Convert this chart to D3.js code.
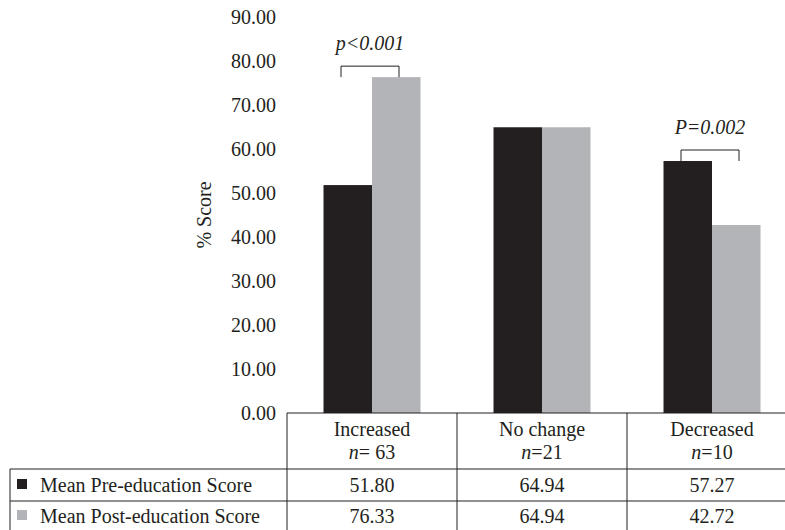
<!DOCTYPE html>
<html>
<head>
<meta charset="utf-8">
<script src="https://cdn.jsdelivr.net/npm/d3@7"></script>
<style>
  body { margin: 0; background: #fff; }
  svg { display: block; font-family: "Liberation Serif", "DejaVu Serif", serif; }
  text { fill: #231f20; }
</style>
</head>
<body>
<script>
// Chart data
const categories = ["Increased", "No change", "Decreased"];
const groupSizes = ["63", "21", "10"];
const groupSpacer = [" ", "", ""];
const preScores = [51.80, 64.94, 57.27];
const postScores = [76.33, 64.94, 42.72];
const seriesNames = ["Mean Pre-education Score", "Mean Post-education Score"];
const yTicks = [0, 10, 20, 30, 40, 50, 60, 70, 80, 90];
const sigCategories = ["Increased", "Decreased"];
const sigLabels = ["p<0.001", "P=0.002"];

const width = 785, height = 530;
const colors = ["#231f20", "#b2b4b7"];
const lineColor = "#231f20";
const fontSize = 20;

const svg = d3.select("body").append("svg")
    .attr("width", width)
    .attr("height", height);

// Scales
const x = d3.scaleBand()
    .domain(categories)
    .range([287, 797]);

const xSeries = d3.scaleBand()
    .domain([0, 1])
    .range([-48.5, 48.5]);

const y = d3.scaleLinear()
    .domain([0, 90])
    .range([413, 17]);

// Y axis (labels only, no line or ticks)
const yAxis = d3.axisLeft(y)
    .tickValues(yTicks)
    .tickSize(0)
    .tickPadding(11)
    .tickFormat(d3.format(".2f"));

const yG = svg.append("g")
    .attr("transform", "translate(287,0)")
    .call(yAxis);
yG.select(".domain").remove();
yG.selectAll("text")
    .attr("font-family", "Liberation Serif, serif")
    .attr("font-size", fontSize)
    .attr("fill", "#231f20");

svg.append("text")
    .attr("transform", "translate(211," + y(45) + ") rotate(-90)")
    .attr("text-anchor", "middle")
    .attr("font-size", fontSize)
    .text("% Score");

// Bars
const groups = svg.selectAll(".group")
    .data(categories)
    .enter()
    .append("g")
    .attr("class", "group")
    .attr("transform", d => "translate(" + (x(d) + x.bandwidth() / 2) + ",0)");

groups.selectAll("rect")
    .data((d, i) => [preScores[i], postScores[i]])
    .enter()
    .append("rect")
    .attr("x", (d, j) => xSeries(j))
    .attr("width", xSeries.bandwidth())
    .attr("y", d => y(d))
    .attr("height", d => y(0) - y(d))
    .attr("fill", (d, j) => colors[j]);

// Significance brackets
sigCategories.forEach(function (cat, k) {
    const i = categories.indexOf(cat);
    const cx = x(cat) + x.bandwidth() / 2;
    const top = y(Math.max(preScores[i], postScores[i]));
    const x1 = cx - 31, x2 = cx + 27;
    svg.append("path")
        .attr("d", "M" + x1 + "," + top + "V" + (top - 11) + "H" + x2 + "V" + top)
        .attr("fill", "none")
        .attr("stroke", lineColor)
        .attr("stroke-width", 1);
    svg.append("text")
        .attr("x", cx - 2)
        .attr("y", top - 27)
        .attr("text-anchor", "middle")
        .attr("font-size", fontSize)
        .attr("font-style", "italic")
        .text(sigLabels[k]);
});

// Data table
const tableLeft = 10, axisX = 287, tableRight = 797;
const rowLines = [413, 469, 501];
const tableBottom = 531;

const grid = svg.append("g")
    .attr("stroke", lineColor)
    .attr("stroke-width", 1);

grid.append("line")
    .attr("x1", axisX).attr("x2", tableRight)
    .attr("y1", rowLines[0]).attr("y2", rowLines[0]);
grid.append("line")
    .attr("x1", tableLeft).attr("x2", tableRight)
    .attr("y1", rowLines[1]).attr("y2", rowLines[1]);
grid.append("line")
    .attr("x1", tableLeft).attr("x2", tableRight)
    .attr("y1", rowLines[2]).attr("y2", rowLines[2]);
grid.append("line")
    .attr("x1", tableLeft).attr("x2", tableLeft)
    .attr("y1", rowLines[1]).attr("y2", tableBottom);
categories.forEach(function (cat) {
    grid.append("line")
        .attr("x1", x(cat)).attr("x2", x(cat))
        .attr("y1", rowLines[0]).attr("y2", tableBottom);
});

// Header cells
const header = svg.selectAll(".header")
    .data(categories)
    .enter()
    .append("g")
    .attr("class", "header")
    .attr("font-size", fontSize)
    .attr("text-anchor", "middle");

header.append("text")
    .attr("x", d => x(d) + x.bandwidth() / 2)
    .attr("y", 436)
    .text(d => d);

const nText = header.append("text")
    .attr("x", d => x(d) + x.bandwidth() / 2)
    .attr("y", 459);
nText.append("tspan")
    .attr("font-style", "italic")
    .text("n");
nText.append("tspan")
    .text((d, i) => "=" + groupSpacer[i] + groupSizes[i]);

// Value rows
const rowBaselines = [492, 523];
[preScores, postScores].forEach(function (vals, r) {
    svg.append("rect")
        .attr("x", 17)
        .attr("y", rowBaselines[r] - 13)
        .attr("width", 10)
        .attr("height", 10)
        .attr("fill", colors[r]);
    svg.append("text")
        .attr("x", 40)
        .attr("y", rowBaselines[r])
        .attr("font-size", fontSize)
        .text(seriesNames[r]);
    svg.selectAll(".val" + r)
        .data(vals)
        .enter()
        .append("text")
        .attr("class", "val" + r)
        .attr("x", (d, i) => x(categories[i]) + x.bandwidth() / 2)
        .attr("y", rowBaselines[r])
        .attr("text-anchor", "middle")
        .attr("font-size", fontSize)
        .text(d => d.toFixed(2));
});
</script>
</body>
</html>
